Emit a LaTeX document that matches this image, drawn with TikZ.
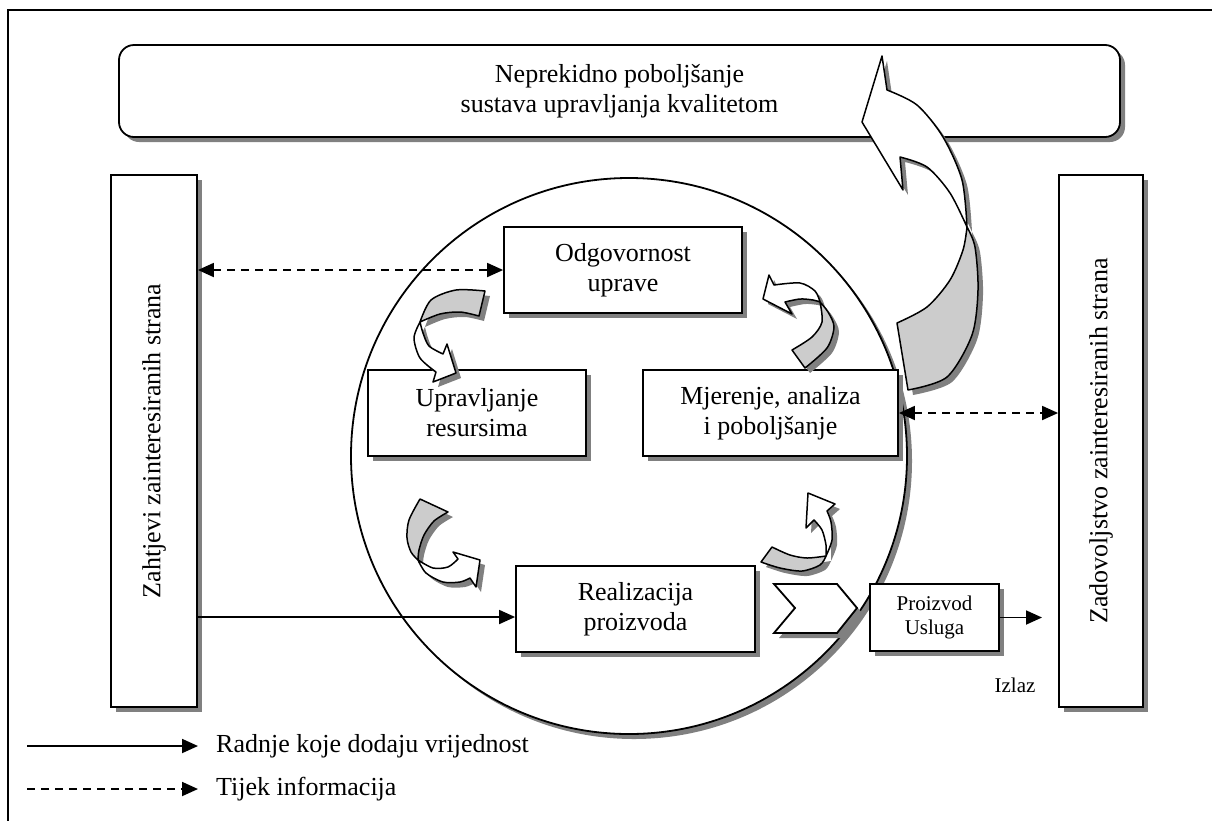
\documentclass[tikz,border=0pt]{standalone}
\usepackage{fontspec}
\setmainfont{Liberation Serif}
\usepackage{graphicx}
\usetikzlibrary{arrows.meta,calc,shadows}
% curved block arrows (gray back part, white front part with head)
\newcommand\AGray{plot[smooth] coordinates {(485,291) (456,290) (431,300) (420,322)} -- plot[smooth] coordinates {(420,322) (440,314) (460,312) (479,316)} -- cycle}
\newcommand\AWhite{plot[smooth] coordinates {(420,322) (414,338) (420,358) (436,372)} -- (433,382) -- (456,373) -- (447,344) -- plot[smooth] coordinates {(443,354) (429,346) (423,333) (420,322)} -- cycle}
\newcommand\BGray{plot[smooth] coordinates {(805,368) (827,348) (834,327) (828,312) (820,302)} -- plot[smooth] coordinates {(820,302) (822,322) (812,337) (792,350)} -- cycle}
\newcommand\BWhite{plot[smooth] coordinates {(820,302) (815,291) (800,283) (774,285)} -- (769,275) -- (763,299) -- (792,314) -- plot[smooth] coordinates {(785,302) (800,299) (813,300) (820,302)} -- cycle}
\newcommand\CGray{plot[smooth] coordinates {(420,499) (409,520) (407,538) (411,552) (418,560)} -- plot[smooth] coordinates {(418,560) (419,550) (424,535) (434,521) (448,512)} -- cycle}
\newcommand\CWhite{plot[smooth] coordinates {(418,560) (426,573) (443,582) (460,582) (470,578)} -- (476,587) -- (480,560) -- (453,552) -- plot[smooth] coordinates {(458,559) (448,567) (433,568) (418,560)} -- cycle}
\newcommand\DGray{plot[smooth] coordinates {(772,547) (790,555) (807,558) (826,556)} -- plot[smooth] coordinates {(826,556) (820,565) (802,571) (780,568) (761,562)} -- cycle}
\newcommand\DWhite{plot[smooth] coordinates {(826,556) (832,540) (831,522) (827,511)} -- (835,504) -- (808,493) -- (806,528) -- plot[smooth] coordinates {(814,520) (822,530) (826,545) (826,556)} -- cycle}
\newcommand\EGray{plot[smooth] coordinates {(908,390) (947,377) (972,335) (978,290) (975,247) (967,227)} -- plot[smooth] coordinates {(967,227) (963,250) (950,280) (927,307) (897,323)} -- cycle}
\newcommand\EWhite{plot[smooth] coordinates {(967,227) (962,180) (943,137) (917,105) (887,90)} -- (882,56) -- (862,122) -- (903,190) -- plot[smooth] coordinates {(900,157) (927,167) (950,193) (967,227)} -- cycle}
\begin{document}
\begin{tikzpicture}[x=1pt,y=-1pt,
  mainfont/.style={font=\fontsize{26pt}{30pt}\selectfont},
  smallfont/.style={font=\fontsize{21pt}{24pt}\selectfont},
  sh/.style={drop shadow={shadow xshift=5pt,shadow yshift=-5pt,fill=black!50,opacity=1}},
  box/.style={draw,line width=1.8pt,fill=white,align=center,inner sep=0pt,mainfont,sh},
  conn/.style={line width=1.8pt,-{Triangle[length=16pt,width=14pt]}},
  dconn/.style={line width=1.8pt,dash pattern=on 8pt off 6pt,{Triangle[length=16pt,width=14pt]}-{Triangle[length=16pt,width=14pt]}},
  legdash/.style={line width=1.8pt,dash pattern=on 8pt off 6pt,-{Triangle[length=16pt,width=14pt]}},
  cgray/.style={draw,line width=1.5pt,fill=black!20,line join=round},
  cwhite/.style={draw,line width=1.5pt,fill=white,line join=round},
  cshadow/.style={fill=black!50}]
\useasboundingbox (0,0) rectangle (1212,820);
% frame
\draw[line width=2pt] (8,822) -- (8,10) -- (1214,10);
% top box
\node[box,rounded corners=15pt,minimum width=1001pt,minimum height=92pt] (top) at (619.5,91) {Neprekidno poboljšanje\\sustava upravljanja kvalitetom};
% circle
\node[circle,draw,line width=1.8pt,fill=white,minimum size=556pt,inner sep=0pt,sh] (circ) at (629,456) {};
% side boxes
\node[box,minimum width=86pt,minimum height=532pt] (lbox) at (154,441) {\rotatebox{90}{Zahtjevi zainteresiranih strana}};
\node[box,minimum width=84pt,minimum height=532pt] (rbox) at (1101,441) {\rotatebox{90}{Zadovoljstvo zainteresiranih strana}};
% inner boxes
\node[box,minimum width=238pt,minimum height=86pt] (odg) at (623,270) {Odgovornost\\uprave};
\node[box,minimum width=218pt,minimum height=86pt] (upr) at (477,413) {Upravljanje\\resursima};
\node[box,minimum width=255pt,minimum height=86pt] (mja) at (770.5,413) {Mjerenje, analiza\\i poboljšanje};
\node[box,minimum width=239pt,minimum height=86pt] (real) at (635.5,609) {Realizacija\\proizvoda};
\node[box,smallfont,minimum width=129pt,minimum height=67pt] (pu) at (934.5,617.5) {Proizvod\\Usluga};
\node[smallfont] (izlaz) at (1015,685) {Izlaz};
% chevron
\draw[line width=1.8pt,fill=white,line join=miter,sh] (774,584) -- (837,584) -- (857,608) -- (837,633) -- (774,633) -- (795,608) -- cycle;
% connectors
\draw[dconn] (lbox.east |- odg.west) -- (odg.west);
\draw[dconn] (mja.east) -- (rbox.west |- mja.east);
\coordinate (realin) at ([yshift=-8pt]real.west);
\draw[conn] (lbox.east |- realin) -- (realin);
\coordinate (outpt) at (1042,617.5);
\draw[conn] (pu.east) -- (outpt);
% curved arrows
\begin{scope}[shift={(5,5)}]
\fill[cshadow] \AGray; \fill[cshadow] \AWhite;
\fill[cshadow] \BGray; \fill[cshadow] \BWhite;
\fill[cshadow] \CGray; \fill[cshadow] \CWhite;
\fill[cshadow] \DGray; \fill[cshadow] \DWhite;
\fill[cshadow] \EGray; \fill[cshadow] \EWhite;
\end{scope}
\draw[cgray] \AGray; \draw[cwhite] \AWhite;
\draw[cgray] \BGray; \draw[cwhite] \BWhite;
\draw[cgray] \CGray; \draw[cwhite] \CWhite;
\draw[cgray] \DGray; \draw[cwhite] \DWhite;
\draw[cgray] \EGray; \draw[cwhite] \EWhite;
% legend
\coordinate (la) at (27,746); \coordinate (lb) at (198,746);
\coordinate (lc) at (27,789); \coordinate (ld) at (198,789);
\draw[conn] (la) -- (lb);
\draw[legdash] (lc) -- (ld);
\node[mainfont,anchor=west,inner sep=0pt] (lt1) at (216,746) {Radnje koje dodaju vrijednost};
\node[mainfont,anchor=west,inner sep=0pt] (lt2) at (216,789) {Tijek informacija};
\end{tikzpicture}
\end{document}
